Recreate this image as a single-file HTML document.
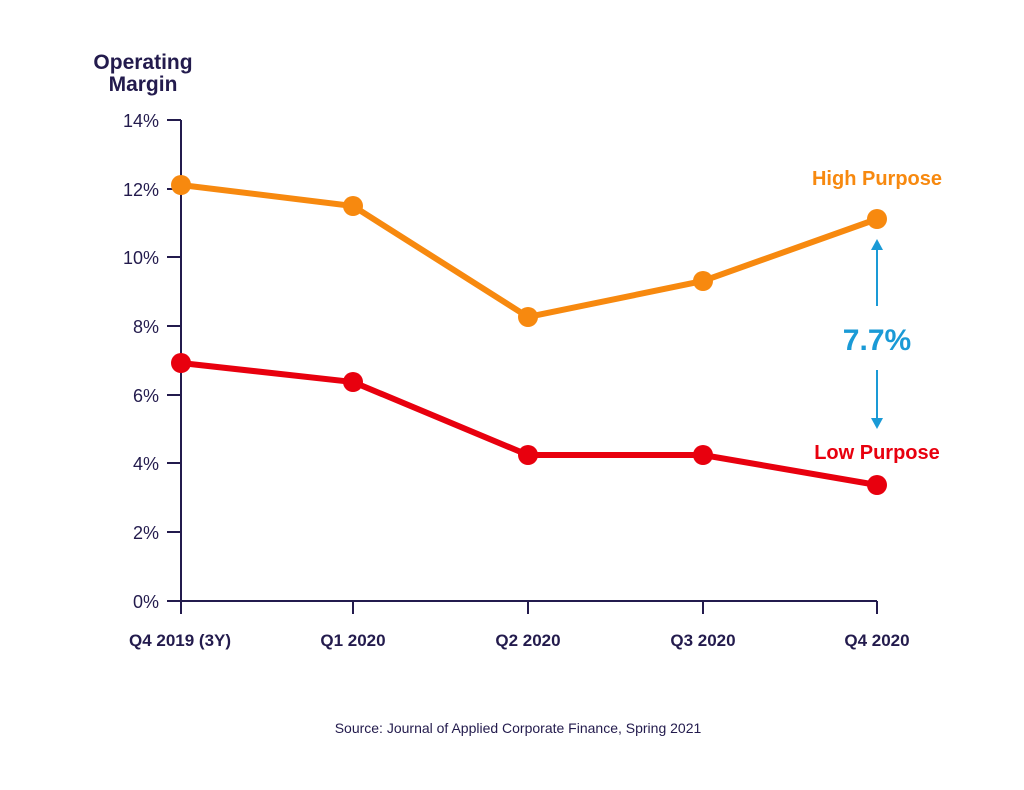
<!DOCTYPE html>
<html><head><style>body{margin:0;background:#fff}svg{display:block}</style></head><body>
<svg width="1024" height="790" xmlns="http://www.w3.org/2000/svg" font-family="Liberation Sans, sans-serif">
<rect width="1024" height="790" fill="#fff"/>
<text x="143" y="69" font-size="21" font-weight="bold" fill="#231b4d" text-anchor="middle">Operating</text>
<text x="143" y="91" font-size="21" font-weight="bold" fill="#231b4d" text-anchor="middle">Margin</text>
<g stroke="#231b4d" stroke-width="2" fill="none">
<line x1="181" y1="120" x2="181" y2="614"/>
<line x1="167" y1="601" x2="877" y2="601"/>
<line x1="167" y1="120" x2="181" y2="120"/>
<line x1="167" y1="189" x2="181" y2="189"/>
<line x1="167" y1="257" x2="181" y2="257"/>
<line x1="167" y1="326" x2="181" y2="326"/>
<line x1="167" y1="395" x2="181" y2="395"/>
<line x1="167" y1="463" x2="181" y2="463"/>
<line x1="167" y1="532" x2="181" y2="532"/>
<line x1="353" y1="601" x2="353" y2="614"/>
<line x1="528" y1="601" x2="528" y2="614"/>
<line x1="703" y1="601" x2="703" y2="614"/>
<line x1="877" y1="601" x2="877" y2="614"/>
</g>
<g font-size="18" fill="#231b4d" text-anchor="end">
<text x="159" y="127">14%</text><text x="159" y="196">12%</text><text x="159" y="264">10%</text>
<text x="159" y="333">8%</text><text x="159" y="402">6%</text><text x="159" y="470">4%</text>
<text x="159" y="539">2%</text><text x="159" y="608">0%</text>
</g>
<g font-size="17" font-weight="bold" fill="#231b4d" text-anchor="middle">
<text x="180" y="646">Q4 2019 (3Y)</text><text x="353" y="646">Q1 2020</text><text x="528" y="646">Q2 2020</text>
<text x="703" y="646">Q3 2020</text><text x="877" y="646">Q4 2020</text>
</g>
<polyline points="181,185 353,206 528,317 703,281 877,219" fill="none" stroke="#f7890f" stroke-width="6"/>
<g fill="#f7890f"><circle cx="181" cy="185" r="10"/><circle cx="353" cy="206" r="10"/><circle cx="528" cy="317" r="10"/><circle cx="703" cy="281" r="10"/><circle cx="877" cy="219" r="10"/></g>
<polyline points="181,363 353,382 528,455 703,455 877,485" fill="none" stroke="#e8000e" stroke-width="6"/>
<g fill="#e8000e"><circle cx="181" cy="363" r="10"/><circle cx="353" cy="382" r="10"/><circle cx="528" cy="455" r="10"/><circle cx="703" cy="455" r="10"/><circle cx="877" cy="485" r="10"/></g>
<text x="877" y="185" font-size="20" font-weight="bold" fill="#f7890f" text-anchor="middle">High Purpose</text>
<text x="877" y="459" font-size="20" font-weight="bold" fill="#e8000e" text-anchor="middle">Low Purpose</text>
<g stroke="#1a9ad6" stroke-width="2" fill="#1a9ad6">
<line x1="877" y1="250" x2="877" y2="306"/><polygon points="871,250 883,250 877,239" stroke="none"/>
<line x1="877" y1="370" x2="877" y2="418"/><polygon points="871,418 883,418 877,429" stroke="none"/>
</g>
<text x="877" y="350" font-size="30" font-weight="bold" fill="#1a9ad6" text-anchor="middle">7.7%</text>
<text x="518" y="733" font-size="14" fill="#231b4d" text-anchor="middle">Source: Journal of Applied Corporate Finance, Spring 2021</text>
</svg>
</body></html>
